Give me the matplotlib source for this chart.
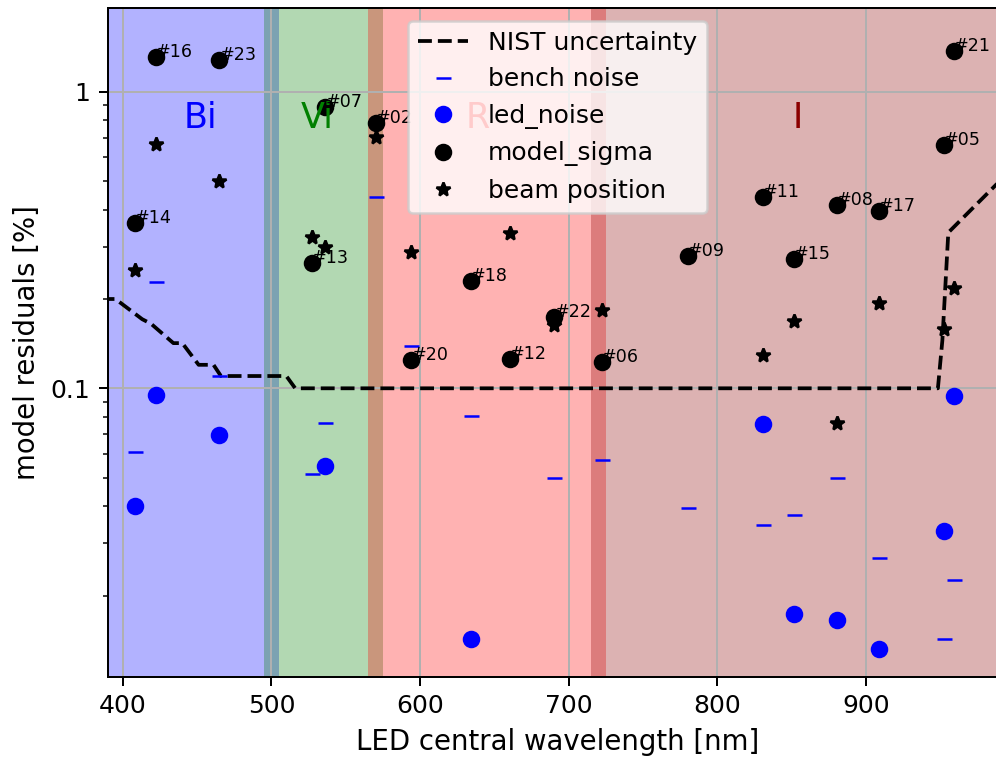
import numpy as np
import matplotlib.pyplot as plt
from matplotlib.ticker import FormatStrFormatter, NullFormatter

nan = np.nan

# LED central wavelengths [nm] and ids
wavelength = [408.1, 422.2, 465.0, 527.1, 536.3, 570.4, 594.1, 634.1, 660.3,
              690.3, 722.4, 780.3, 830.5, 851.6, 880.3, 908.6, 952.3, 959.2]
led_id = ['#14', '#16', '#23', '#13', '#07', '#02', '#20', '#18', '#12',
          '#22', '#06', '#09', '#11', '#15', '#08', '#17', '#05', '#21']

# residuals [%]
model_sigma = [0.362, 1.306, 1.279, 0.264, 0.886, 0.782, 0.125, 0.230, 0.126,
               0.1735, 0.123, 0.279, 0.443, 0.272, 0.415, 0.397, 0.661, 1.375]
beam_position = [0.2505, 0.666, 0.501, 0.3245, 0.299, 0.705, 0.288, nan, 0.333,
                 0.1634, 0.1837, nan, 0.1292, 0.169, 0.0766, 0.1943, 0.158, 0.2184]
led_noise = [0.0402, 0.0952, 0.0698, nan, 0.0548, nan, nan, 0.01431, nan,
             nan, nan, nan, 0.0758, 0.0173, 0.01655, 0.01324, 0.033, 0.0944]
bench_noise = [0.061, 0.2288, 0.110, 0.0515, 0.0766, 0.4406, 0.1389, 0.0808, nan,
               0.0497, 0.0572, 0.0395, 0.0345, 0.0373, 0.0498, 0.0267, 0.01425, 0.02264]

# NIST calibration uncertainty [%]
nist_wl = [385, 395, 413, 419, 434, 440, 451, 461, 466, 510, 516,
           948.5, 951.5, 955.5, 1000]
nist_unc = [0.2, 0.2, 0.171, 0.165, 0.142, 0.142, 0.12, 0.12, 0.11, 0.11, 0.1,
            0.1, 0.145, 0.335, 0.56]

# filter bands
band_names = ['Bi', 'Vi', 'R', 'I']
band_lo = [380, 495, 565, 715]
band_hi = [505, 575, 725, 1000]
band_colors = ['blue', 'green', 'red', 'darkred']
band_text_x = [452, 531, 639, 854]

fig = plt.figure(figsize=(996 / 180, 763 / 180), dpi=180)
ax = fig.add_axes([108 / 996, 1 - 676.7 / 763, 899 / 996, 668.4 / 763])

for lo, hi, c in zip(band_lo, band_hi, band_colors):
    ax.axvspan(lo, hi, color=c, alpha=0.3, lw=0)
for name, x, c in zip(band_names, band_text_x, band_colors):
    ax.text(x, 0.753, name, color=c, fontsize=14, ha='center')

ax.plot(nist_wl, nist_unc, 'k--', label='NIST uncertainty')
ax.plot(wavelength, bench_noise, '_', color='blue', label='bench noise')
ax.plot(wavelength, led_noise, 'o', color='blue', label='led_noise')
ax.plot(wavelength, model_sigma, 'o', color='black', label='model_sigma')
ax.plot(wavelength, beam_position, '*', color='black', label='beam position')
for x, y, s in zip(wavelength, model_sigma, led_id):
    ax.text(x, y, s, fontsize=7)

ax.set_yscale('log')
ax.set_xlim(390, 995)
ax.set_ylim(0.01066, 1.91)
ax.yaxis.set_major_formatter(FormatStrFormatter('%g'))
ax.yaxis.set_minor_formatter(NullFormatter())
ax.grid(True)
ax.set_xlabel('LED central wavelength [nm]', fontsize=11)
ax.set_ylabel('model residuals [%]', fontsize=11)
ax.legend(loc='upper center')

fig.savefig('out.png', dpi=180)
